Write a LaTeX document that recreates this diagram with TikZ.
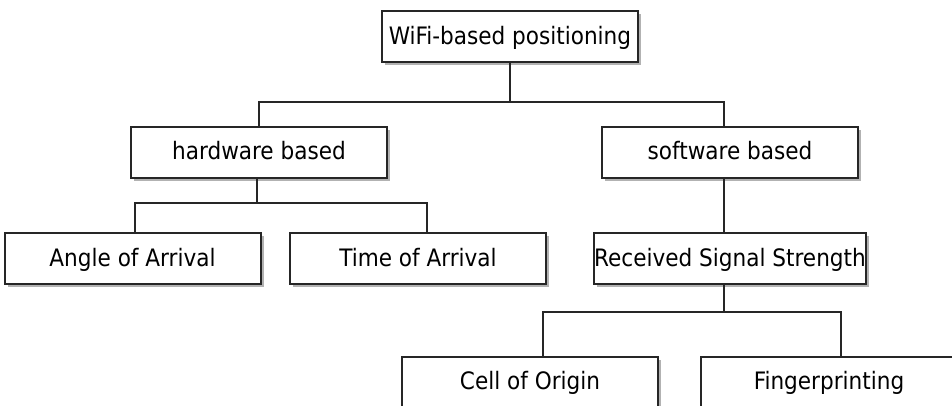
\documentclass[tikz,border=0pt]{standalone}
\usepackage{fontspec}
\setmainfont{DejaVu Sans Condensed}
\usetikzlibrary{shadows,calc}
\begin{document}
\begin{tikzpicture}[x=1pt,y=-1pt,
  box/.style={draw=black!85, line width=2pt, fill=white, minimum width=256pt, minimum height=51pt, inner sep=0pt,
    text height=17pt, text depth=2pt,
    font=\fontsize{24}{28}\selectfont, text=black,
    drop shadow={shadow xshift=3pt, shadow yshift=-3pt, fill=black!30, opacity=1}},
  link/.style={draw=black!85, line width=2pt}]
\fill[white] (0,0) rectangle (952,406);
\useasboundingbox (0,0) rectangle (952,406);
\node[box] (top) at (510,37) {WiFi-based positioning};
\node[box] (hw) at (259,152.5) {hardware based};
\node[box] (sw) at (730,152.5) {software based};
\node[box] (aoa) at (132.5,258.5) {Angle of Arrival};
\node[box] (toa) at (418,258.5) {Time of Arrival};
\node[box, minimum width=271pt] (rss) at (730,258.5) {Received Signal Strength};
\node[box] (cell) at (530,382) {Cell of Origin};
\node[box] (fp) at (829,382) {Fingerprinting};
\coordinate (b1) at (0,102);
\coordinate (b2) at (0,203);
\coordinate (b3) at (0,312);
\draw[link] (top.south) -- (top.south |- b1);
\draw[link] (hw.north) |- ($(sw.north |- b1)+(-6,0)$) -- ($(sw.north)+(-6,0)$);
\draw[link] ($(hw.south)+(-2,0)$) -- ($(hw.south |- b2)+(-2,0)$);
\draw[link] ($(aoa.north)+(2.5,0)$) |- ($(toa.north |- b2)+(9,0)$) -- ($(toa.north)+(9,0)$);
\draw[link] ($(sw.south)+(-6,0)$) -- ($(rss.north)+(-6,0)$);
\draw[link] ($(rss.south)+(-6,0)$) -- ($(rss.south |- b3)+(-6,0)$);
\draw[link] ($(cell.north)+(13,0)$) |- ($(fp.north |- b3)+(12,0)$) -- ($(fp.north)+(12,0)$);
\end{tikzpicture}
\end{document}
